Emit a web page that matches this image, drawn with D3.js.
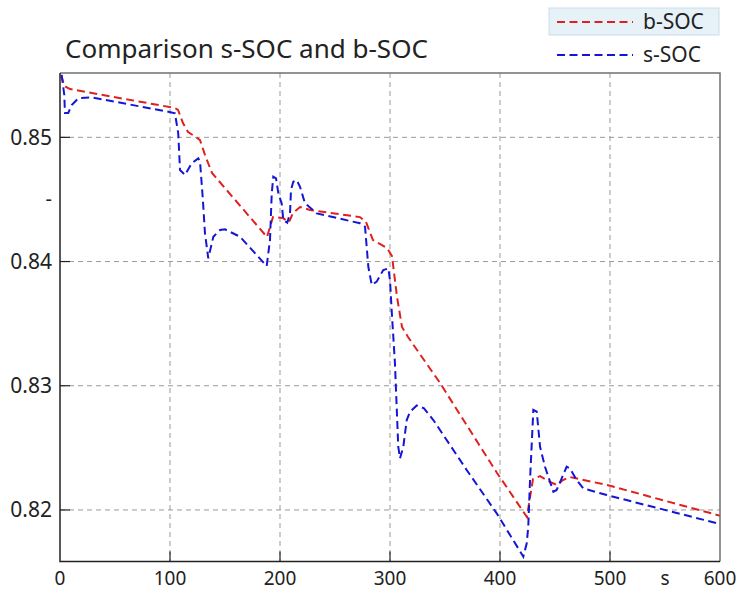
<!DOCTYPE html>
<html><head><meta charset="utf-8">
<script src="https://cdn.jsdelivr.net/npm/d3@7"></script>
<style>body{margin:0;background:#fff}svg{display:block}text{font-family:"Noto Sans",sans-serif;fill:#222}</style>
</head><body>
<svg id="chart" width="736" height="599"></svg>
<script>
const title = "Comparison s-SOC and b-SOC";
const seriesNames = ["b-SOC", "s-SOC"];
const xTicks = [0, 100, 200, 300, 400, 500, 600];
const yTicks = [0.82, 0.83, 0.84, 0.85];
const yTickLabels = ["0.82", "0.83", "0.84", "0.85"];
const yMinorTick = 0.845, yMinorLabel = "-";
const xUnit = "s";
const xDomain = [0, 600];
const yDomain = [0.81585, 0.85518];

const bT = [1,4,9.1,104.5,107.3,111.8,116.4,123.6,127.3,131.8,138.2,188.2,193.6,202.7,208.2,211.8,218.2,227.3,272.7,278.2,284.5,297.3,301.8,306.4,310.9,316.4,345.5,380,397.3,424.5,427.3,430,436.4,445.5,451.8,457.3,463.6,497.3,597.3,600];
const bSOC = [0.85502,0.85413,0.85389,0.85236,0.85220,0.85115,0.85043,0.85002,0.84978,0.84858,0.84713,0.84197,0.84358,0.84350,0.84318,0.84391,0.84439,0.84415,0.84358,0.84318,0.84173,0.84109,0.84044,0.83714,0.83473,0.83392,0.83022,0.82539,0.82298,0.81943,0.82104,0.82249,0.82273,0.82225,0.82201,0.82241,0.82265,0.82201,0.81960,0.81952];

const sT = [1.5,3.9,4.5,7.5,10.6,16.6,28.8,98.5,104.5,107.5,109.1,113.6,119.7,125.7,127.3,129.7,131.8,134.8,139.4,145.5,150,163.6,187.9,190.9,192.5,193.9,196.4,198.5,201.5,203,206.6,209.1,210,212.1,215.2,218.2,222.7,233.4,272.7,277.3,280.3,283.4,287.9,293.9,298.5,300,301.5,304.5,307.5,309.1,312.1,315.2,318.2,324.3,330.9,339.4,369.7,397,421.2,424.3,425.7,427.3,430.3,433.4,436.4,440.9,448.5,451.5,456.1,460.6,463.6,469.7,475.7,497,597.3,600];
const sSOC = [0.85502,0.85341,0.85196,0.85196,0.85260,0.85314,0.85322,0.85206,0.85193,0.85032,0.84737,0.84697,0.84791,0.84831,0.84804,0.84522,0.84227,0.84026,0.84200,0.84254,0.84259,0.84200,0.83964,0.84173,0.84549,0.84683,0.84670,0.84549,0.84469,0.84334,0.84313,0.84388,0.84576,0.84643,0.84656,0.84602,0.84469,0.84388,0.84308,0.84280,0.83958,0.83811,0.83838,0.83932,0.83945,0.83851,0.83610,0.83181,0.82509,0.82416,0.82509,0.82724,0.82791,0.82841,0.82818,0.82724,0.82322,0.81973,0.81624,0.81732,0.81865,0.82241,0.82805,0.82791,0.82509,0.82348,0.82147,0.82161,0.82255,0.82348,0.82335,0.82241,0.82174,0.82120,0.81893,0.81887];

const colors = ["#e0201e", "#1515d6"];

const svg = d3.select("#chart");
const m = {left: 60, top: 73, right: 16, bottom: 37.5};
const W = 736 - m.left - m.right, H = 599 - m.top - m.bottom;
const x = d3.scaleLinear().domain(xDomain).range([m.left, m.left + W]);
const y = d3.scaleLinear().domain(yDomain).range([m.top + H, m.top]);

// grid
const g = svg.append("g");
g.selectAll("line.hg").data(yTicks).join("line")
  .attr("x1", m.left).attr("x2", m.left + W)
  .attr("y1", d => y(d)).attr("y2", d => y(d))
  .attr("stroke", "#999").attr("stroke-width", 1).attr("stroke-dasharray", "5,4");
g.selectAll("line.vg").data(xTicks.slice(1, -1)).join("line")
  .attr("y1", m.top).attr("y2", m.top + H)
  .attr("x1", d => x(d)).attr("x2", d => x(d))
  .attr("stroke", "#999").attr("stroke-width", 1).attr("stroke-dasharray", "5,4");

// inner ticks
g.selectAll("line.yt").data(yTicks).join("line")
  .attr("x1", m.left).attr("x2", m.left + 10)
  .attr("y1", d => y(d)).attr("y2", d => y(d))
  .attr("stroke", "#222").attr("stroke-width", 1.2);
g.selectAll("line.xt").data(xTicks.slice(1, -1)).join("line")
  .attr("x1", d => x(d)).attr("x2", d => x(d))
  .attr("y1", m.top + H).attr("y2", m.top + H - 10)
  .attr("stroke", "#222").attr("stroke-width", 1.2);

// lines
const line = d3.line().x(d => x(d[0])).y(d => y(d[1]));
svg.append("clipPath").attr("id", "c").append("rect")
  .attr("x", m.left).attr("y", m.top - 2).attr("width", W).attr("height", H + 2);
const data = [d3.zip(bT, bSOC), d3.zip(sT, sSOC)];
svg.append("g").attr("clip-path", "url(#c)").selectAll("path").data(data).join("path")
  .attr("d", line).attr("fill", "none")
  .attr("stroke", (d, i) => colors[i]).attr("stroke-width", 2)
  .attr("stroke-dasharray", "8,4.5");

// frame
svg.append("path").attr("d", `M${m.left},${m.top}H${m.left + W}V${m.top + H}`)
  .attr("fill", "none").attr("stroke", "#707070").attr("stroke-width", 1.5);
svg.append("path").attr("d", `M${m.left},${m.top}V${m.top + H}H${m.left + W}`)
  .attr("fill", "none").attr("stroke", "#222").attr("stroke-width", 1.5);

// tick labels
svg.append("g").selectAll("text").data(yTicks).join("text")
  .attr("x", 52).attr("y", d => y(d)).attr("dy", "0.35em")
  .attr("text-anchor", "end").attr("font-size", 21)
  .text((d, i) => yTickLabels[i]);
svg.append("text").attr("x", 52).attr("y", y(yMinorTick)).attr("dy", "0.35em")
  .attr("text-anchor", "end").attr("font-size", 20).text(yMinorLabel);
svg.append("g").selectAll("text").data(xTicks).join("text")
  .attr("x", d => x(d)).attr("y", 585)
  .attr("text-anchor", "middle").attr("font-size", 19)
  .text(d => d);
svg.append("text").attr("x", 665).attr("y", 585).attr("text-anchor", "middle")
  .attr("font-size", 19).text(xUnit);

// title
svg.append("text").attr("x", 65).attr("y", 58).attr("font-size", 26).text(title);

// legend
svg.append("rect").attr("x", 549).attr("y", 8).attr("width", 170).attr("height", 27)
  .attr("fill", "#e6f1f8").attr("stroke", "#c9dde9");
seriesNames.forEach((n, i) => {
  const ly = 22 + i * 33;
  svg.append("line").attr("x1", 557).attr("x2", 633).attr("y1", ly).attr("y2", ly)
    .attr("stroke", colors[i]).attr("stroke-width", 2).attr("stroke-dasharray", "8,4.5");
  svg.append("text").attr("x", 643).attr("y", ly).attr("dy", "0.35em")
    .attr("font-size", 21).text(n);
});
</script>
</body></html>
